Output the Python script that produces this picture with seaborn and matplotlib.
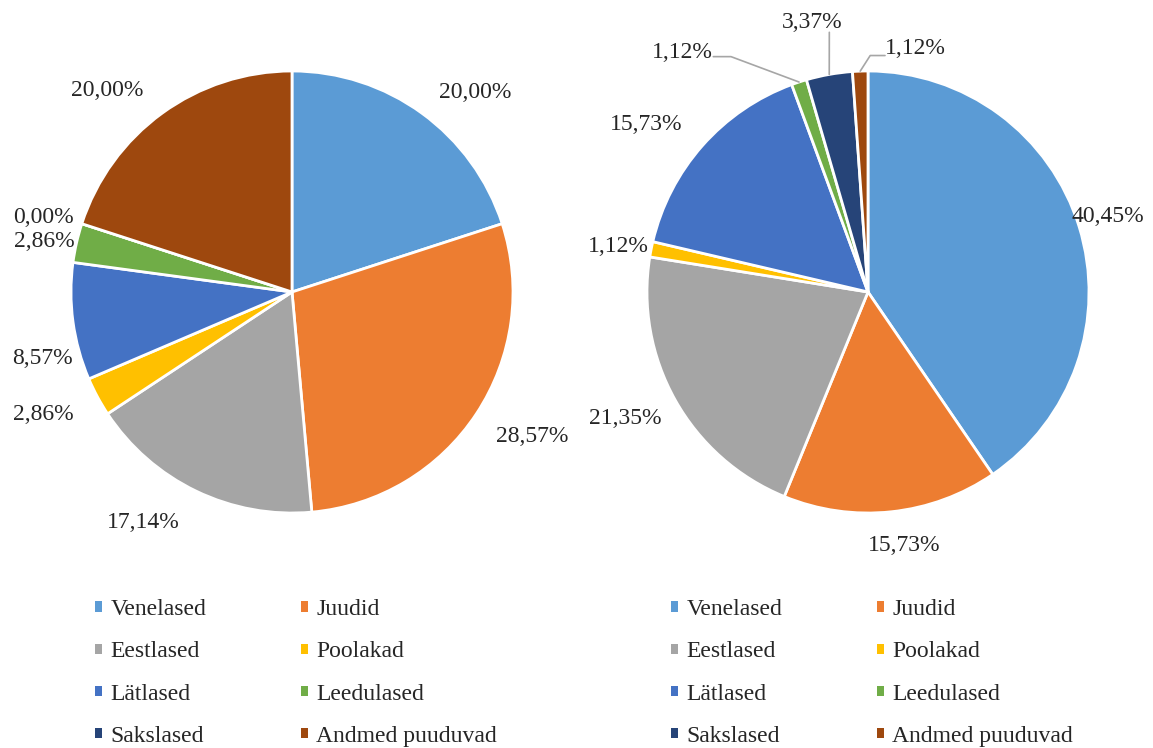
# rahvused kahes grupis - sektordiagrammid
import numpy as np
import matplotlib
matplotlib.use("Agg")
import matplotlib.pyplot as plt
from matplotlib.patches import Patch
import seaborn as sns

kategooriad = ['Venelased', 'Juudid', 'Eestlased', 'Poolakad',
               'Lätlased', 'Leedulased', 'Sakslased', 'Andmed puuduvad']
vasak = [20.00, 28.57, 17.14, 2.86, 8.57, 2.86, 0.00, 20.00]
parem = [40.45, 15.73, 21.35, 1.12, 15.73, 1.12, 3.37, 1.12]
varvid = ['#5B9BD5', '#ED7D31', '#A5A5A5', '#FFC000',
          '#4472C4', '#70AD47', '#264478', '#9E480E']

sns.set_style("white")
plt.rcParams['font.family'] = ['Liberation Serif', 'DejaVu Serif']
FS = 17

fig = plt.figure(figsize=(11.53, 7.48), dpi=100)
W, H = 1153, 748
R = 221


def pie_ax(cx, cy):
    ax = fig.add_axes([(cx - R) / W, (H - cy - R) / H, 2 * R / W, 2 * R / H])
    return ax


def silt(v):
    return "{:.2f}".format(v).replace('.', ',') + '%'


def joonista(ax, vals, nudges, leaders):
    wedges, _ = ax.pie(vals, colors=varvid, startangle=90, counterclock=False,
                       radius=1, wedgeprops=dict(edgecolor='white', linewidth=2))
    ax.set_xlim(-1, 1)
    ax.set_ylim(-1, 1)
    ax.set_aspect('equal')
    ax.axis('off')
    for i, (w, v) in enumerate(zip(wedges, vals)):
        a = np.deg2rad((w.theta1 + w.theta2) / 2)
        c, s = np.cos(a), np.sin(a)
        if i in leaders:
            (tx, ty), pts = leaders[i]
            ax.text(tx, ty, silt(v), ha='center', va='center', fontsize=FS)
            xs = [c] + [p[0] for p in pts]
            ys = [s] + [p[1] for p in pts]
            ax.plot(xs, ys, color='#A6A6A6', lw=1.2, clip_on=False)
            continue
        ha = 'left' if c > 0.25 else ('right' if c < -0.25 else 'center')
        va = 'bottom' if s > 0.25 else ('top' if s < -0.25 else 'center')
        dx, dy = nudges.get(i, (0, 0))
        ax.text(1.07 * c + dx, 1.07 * s + dy, silt(v), ha=ha, va=va, fontsize=FS)


ax1 = pie_ax(292, 292)
joonista(ax1, vasak,
         {0: (0.035, -0.01), 1: (0.03, -0.015), 2: (-0.045, -0.03), 3: (-0.045, 0),
          4: (0.07, -0.155), 5: (0.06, -0.01), 6: (0.03, -0.04), 7: (-0.045, 0)}, {})

ax2 = pie_ax(868, 292)
lead = {
    5: ((-0.84, 1.085), [(-0.62, 1.065), (-0.70, 1.065)]),
    6: ((-0.253, 1.22), [(-0.175, 1.175)]),
    7: ((0.213, 1.103), [(0.01, 1.07), (0.077, 1.07)]),
}
joonista(ax2, parem, {0: (-0.10, -0.02), 1: (0.05, -0.035), 3: (0.06, 0),
                      4: (-0.04, 0)}, lead)

# legendis rida-haaval järjestus (matplotlib täidab veerg-haaval)
jrk = [0, 2, 4, 6, 1, 3, 5, 7]
handles = [Patch(facecolor=varvid[k], edgecolor='none') for k in jrk]
labels = [kategooriad[k] for k in jrk]
for ax, x0 in [(ax1, 95), (ax2, 671)]:
    ax.legend(handles, labels, ncol=2, loc='upper left',
              bbox_to_anchor=(x0 / W, 1 - 599 / H), bbox_transform=fig.transFigure,
              frameon=False, fontsize=FS, handlelength=0.3, handleheight=0.3,
              handletextpad=0.35, columnspacing=4.0, labelspacing=0.9,
              borderpad=0, borderaxespad=0)

fig.savefig('out.png', dpi=100)
